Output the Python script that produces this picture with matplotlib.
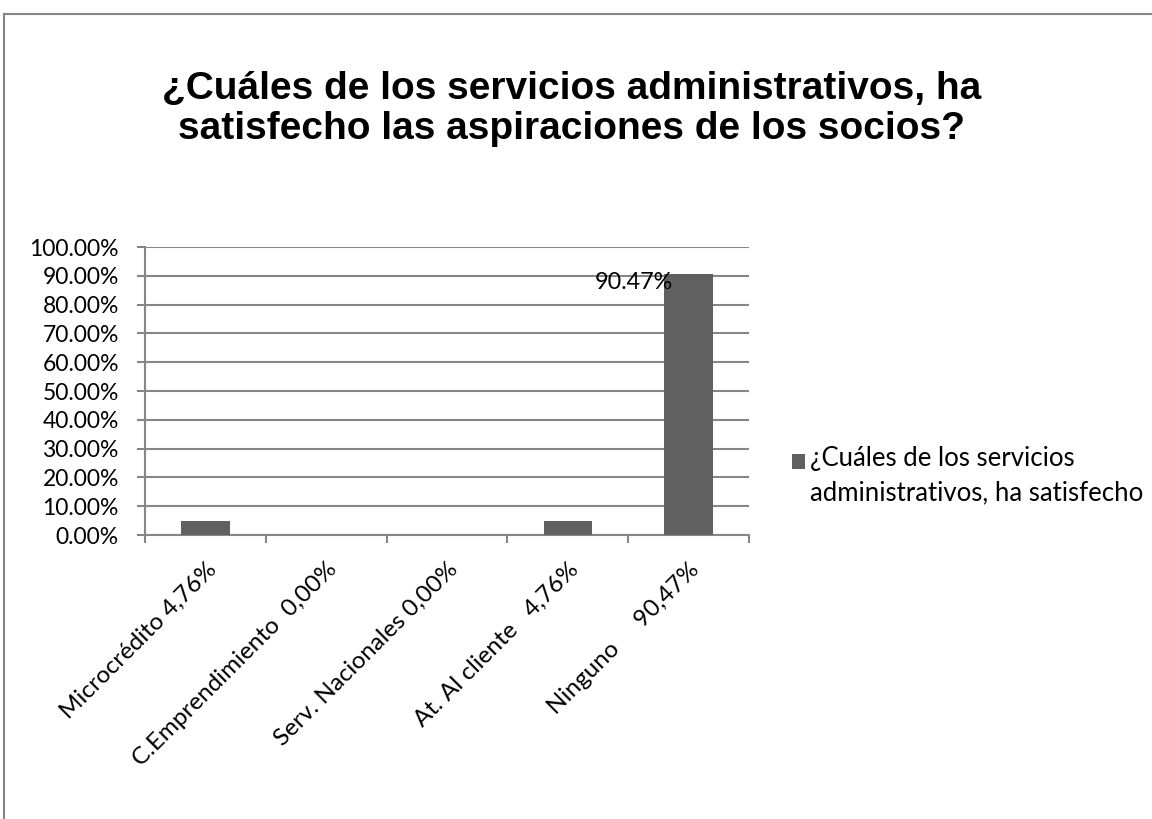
import matplotlib
matplotlib.use("Agg")
import matplotlib.pyplot as plt
from matplotlib.patches import Rectangle
from matplotlib.ticker import FixedLocator
from matplotlib.legend_handler import HandlerPatch

categories = ["Microcrédito 4,76%", "C.Emprendimiento  0,00%", "Serv. Nacionales 0,00%",
              "At. Al cliente   4,76%", "Ninguno     90,47%"]
values = [0.0476, 0.0, 0.0, 0.0476, 0.9047]
yticks = [i / 10 for i in range(11)]
title = "¿Cuáles de los servicios administrativos, ha\nsatisfecho las aspiraciones de los socios?"
legend_label = "¿Cuáles de los servicios\nadministrativos, ha satisfecho"
data_label = "90.47%"

W, H = 1152, 819
fig = plt.figure(figsize=(W / 100, H / 100), dpi=100)
fig.patch.set_facecolor("white")

grid_c = "#868686"
bar_c = "#606060"
font = "Lato"

# outer chart frame
fig.patches.append(Rectangle((4 / W, -0.05), 1.2, 1 - 14 / H + 0.05, transform=fig.transFigure,
                             fill=False, edgecolor=grid_c, lw=1.5, clip_on=False))

ax = fig.add_axes([145 / W, 1 - 535 / H, (749 - 145) / W, (535 - 247) / H])
x = list(range(len(categories)))
bars = ax.bar(x, values, width=0.4, color=bar_c, zorder=3, label=legend_label)

ax.set_xlim(-0.5, len(categories) - 0.5)
ax.set_ylim(0, 1)
ax.set_yticks(yticks)
ax.set_yticklabels([f"{v * 100:.2f}%" for v in yticks], fontsize=16.5, family=font)
ax.yaxis.grid(True, color=grid_c, lw=1.5, zorder=0)
ax.tick_params(axis="y", length=5.8, width=1.5, color=grid_c, pad=13)

ax.set_xticks(x)
ax.set_xticklabels(categories, rotation=45, ha="right", rotation_mode="anchor",
                   fontsize=17.5, family=font)
ax.tick_params(axis="x", which="major", length=0, pad=17)
ax.xaxis.set_minor_locator(FixedLocator([i - 0.5 for i in range(len(categories) + 1)]))
ax.tick_params(axis="x", which="minor", length=6, width=1.5, color=grid_c)

for s in ["top", "right"]:
    ax.spines[s].set_visible(False)
for s in ["left", "bottom"]:
    ax.spines[s].set_color(grid_c)
    ax.spines[s].set_linewidth(1.5)

# data label on the largest bar
i_max = values.index(max(values))
ax.annotate(data_label, xy=(i_max - 0.2, values[i_max]), xytext=(6, -6),
            textcoords="offset points", ha="right", va="center",
            fontsize=16.8, family=font, zorder=4)

fig.text(572 / W, 1 - 109 / H, title, ha="center", va="center", fontsize=28,
         fontweight="bold", family="Liberation Sans", linespacing=1.17)


def shifted_square(legend, orig_handle, xdescent, ydescent, width, height, fontsize):
    return Rectangle((-xdescent, -ydescent - 5.5), width, height)


leg = ax.legend(handles=[bars.patches[0]], labels=[legend_label],
                loc="upper left", bbox_to_anchor=(792 / W, 1 - 446 / H),
                bbox_transform=fig.transFigure, frameon=False,
                prop={"family": font, "size": 18.5}, handlelength=0.52, handleheight=0.52,
                handletextpad=0.18, borderaxespad=0, borderpad=0,
                handler_map={Rectangle: HandlerPatch(patch_func=shifted_square)})
for t in leg.get_texts():
    t.set_linespacing(1.45)
for col in leg._legend_handle_box.get_children():
    for row in col.get_children():
        row.align = "top"

fig.savefig("out.png", dpi=100)
